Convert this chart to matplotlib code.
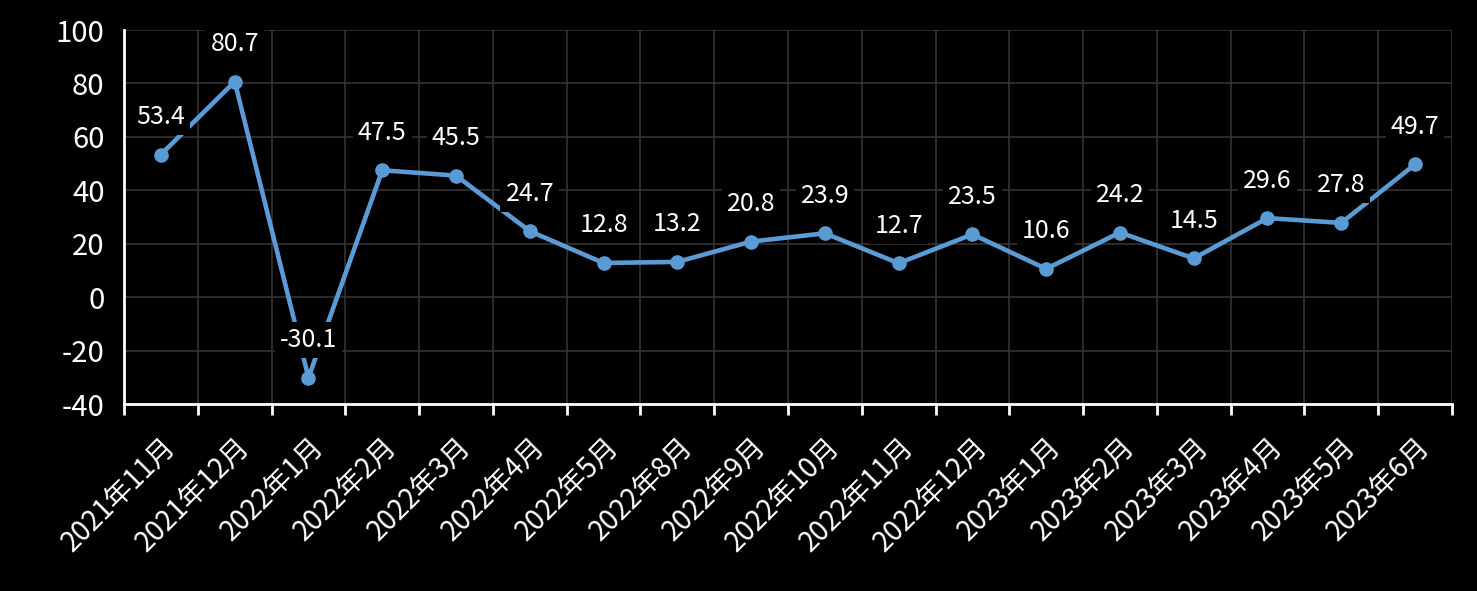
import numpy as np
import matplotlib
matplotlib.use('Agg')
import matplotlib.pyplot as plt

plt.rcParams['font.family'] = ['Noto Sans CJK SC', 'DejaVu Sans']
plt.rcParams['axes.unicode_minus'] = False

# Data
months = ['2021年11月', '2021年12月', '2022年1月', '2022年2月', '2022年3月', '2022年4月',
          '2022年5月', '2022年8月', '2022年9月', '2022年10月', '2022年11月', '2022年12月',
          '2023年1月', '2023年2月', '2023年3月', '2023年4月', '2023年5月', '2023年6月']
values = [53.4, 80.7, -30.1, 47.5, 45.5, 24.7, 12.8, 13.2, 20.8, 23.9, 12.7, 23.5,
          10.6, 24.2, 14.5, 29.6, 27.8, 49.7]
y_ticks = [-40, -20, 0, 20, 40, 60, 80, 100]

fig = plt.figure(figsize=(14.77, 5.91), dpi=100, facecolor='black')
ax = fig.add_axes([0.084, 0.3164, 0.899, 0.6328], facecolor='black')

x = np.arange(len(values))
ax.plot(x, values, color='#5B9BD5', linewidth=3.3, marker='o', markersize=9.5, zorder=3)

# Data labels with black boxes
for xi, v in zip(x, values):
    ax.annotate(f'{v}', (xi, v), xytext=(0, 27), textcoords='offset points',
                ha='center', va='center', color='white', fontsize=18,
                bbox=dict(boxstyle='square,pad=0.2', facecolor='black', edgecolor='none'),
                zorder=4)

ax.set_xlim(-0.5, len(values) - 0.5)
ax.set_ylim(-40, 100)
ax.set_yticks(y_ticks)
ax.set_yticklabels([str(t) for t in y_ticks])

# Category boundaries as major ticks, labels at centers
ax.set_xticks(np.arange(-0.5, len(values), 1.0))
ax.set_xticklabels([])
ax.set_xticks(x, minor=True)
ax.set_xticklabels(months, minor=True, rotation=45, ha='right', rotation_mode='anchor')

ax.tick_params(axis='x', which='major', length=8, width=2, color='white', direction='out')
ax.tick_params(axis='x', which='minor', length=0, pad=20, labelsize=20, labelcolor='white')
ax.tick_params(axis='y', length=0, pad=14, labelsize=21, labelcolor='white')

ax.grid(True, which='major', color='#333333', linewidth=1.2)
ax.set_axisbelow(True)

for side in ['top', 'right']:
    ax.spines[side].set_visible(False)
for side in ['left', 'bottom']:
    ax.spines[side].set_color('white')
    ax.spines[side].set_linewidth(2)

plt.savefig('out.png', dpi=100, facecolor='black')
